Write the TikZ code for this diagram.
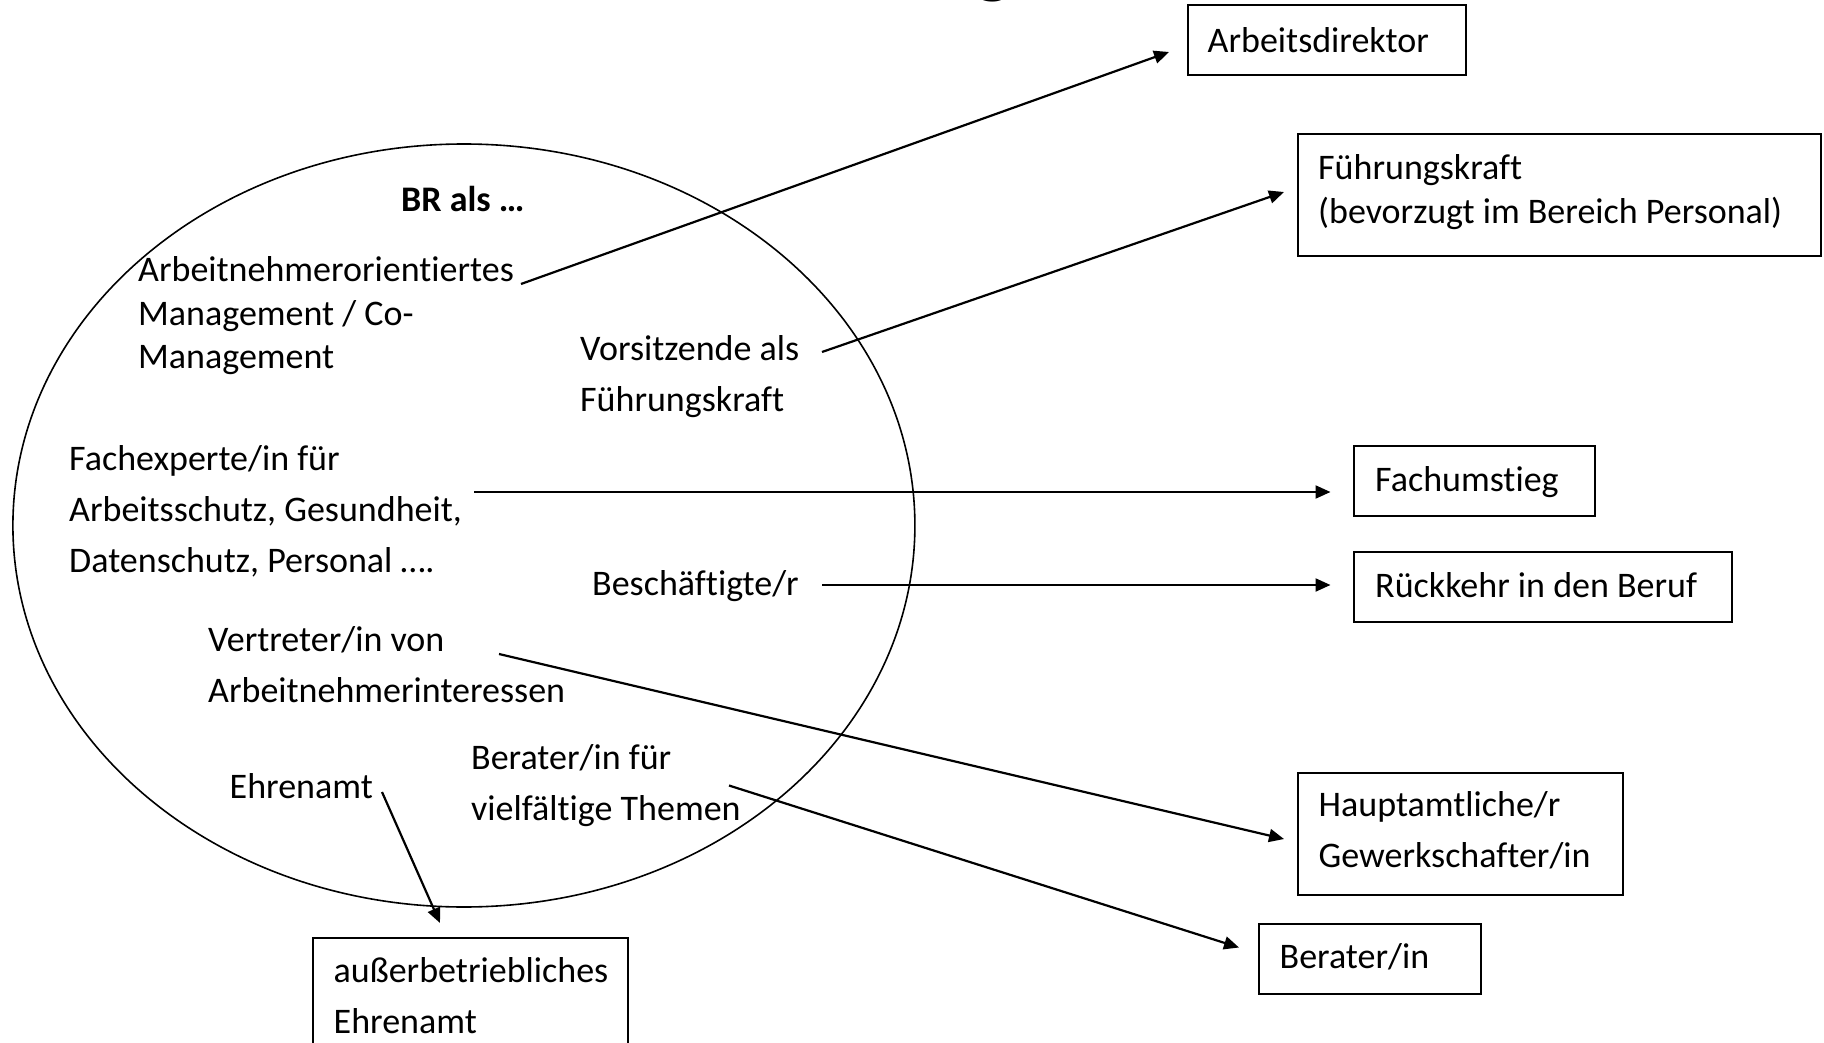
\documentclass[tikz,border=0pt]{standalone}
\usepackage{fontspec}
\setmainfont{Carlito}[Ligatures={NoCommon,NoContextual}]
\usetikzlibrary{arrows.meta,shapes.geometric}
\newcommand\twol[2]{\vtop{\hbox{#1}\hbox{#2}}}
\newcommand\threel[3]{\vtop{\hbox{#1}\hbox{#2}\hbox{#3}}}
\tikzset{
  lbl/.style={inner sep=0pt, anchor=base west, font=\fontsize{36}{44}\selectfont},
  lblw/.style={inner sep=0pt, anchor=base west, font=\fontsize{36}{51}\selectfont},
  boxr/.style={draw, line width=2pt, inner sep=0pt, outer sep=0pt, anchor=north west},
  arr/.style={line width=2.2pt, -{Triangle[length=15pt,width=13pt]}},
}
\begin{document}
\begin{tikzpicture}[x=1pt,y=-1pt]
\useasboundingbox (0,0) rectangle (1824,1043);
\clip (0,0) rectangle (1824,1043);
% partially visible title
\node[inner sep=0pt, anchor=base, font=\bfseries\fontsize{80}{80}\selectfont] (ttl) at (993,-11) {g};
% ellipse
\node[draw, ellipse, line width=1.6pt, inner sep=0pt, minimum width=902pt, minimum height=763pt] (br) at (463.9,525.5) {};
% texts inside
\node[lbl, font=\bfseries\fontsize{36}{44}\selectfont] (bral) at (401,212) {BR als …};
\node[lbl] (arbn) at (138,281) {\threel{Arbeitnehmerorientiertes}{Management / Co-}{Management}};
\node[lblw] (vors) at (580,360) {\twol{Vorsitzende als}{Führungskraft}};
\node[lblw] (fachx) at (69,470) {\threel{Fachexperte/in für}{Arbeitsschutz, Gesundheit,}{Datenschutz, Personal ….}};
\node[lbl] (besch) at (592,595) {Beschäftigte/r};
\node[lblw] (vertr) at (208,651) {\twol{Vertreter/in von}{Arbeitnehmerinteressen}};
\node[lblw] (berx) at (471,769) {\twol{Berater/in für}{vielfältige Themen}};
\node[lbl] (ehren) at (229.5,798) {Ehrenamt};
% boxes
\node[boxr, minimum width=278pt, minimum height=70pt] (dir) at (1188,5.5) {};
\node[lbl] (tdir) at (1207.5,53) {Arbeitsdirektor};
\node[boxr, minimum width=522.5pt, minimum height=122pt] (fk) at (1298,134) {};
\node[lbl] (tfk) at (1318,180) {\twol{Führungskraft}{(bevorzugt im Bereich Personal)}};
\node[boxr, minimum width=241pt, minimum height=70pt] (fach) at (1354,445.5) {};
\node[lbl] (tfach) at (1375,491) {Fachumstieg};
\node[boxr, minimum width=378pt, minimum height=70pt] (rueck) at (1354,552) {};
\node[lbl] (trueck) at (1375,597) {Rückkehr in den Beruf};
\node[boxr, minimum width=325pt, minimum height=122pt] (haupt) at (1298,772.5) {};
\node[lblw] (thaupt) at (1318.5,816.5) {\twol{Hauptamtliche/r}{Gewerkschafter/in}};
\node[boxr, minimum width=221.5pt, minimum height=70pt] (ber) at (1259,923.5) {};
\node[lbl] (tber) at (1279.5,968) {Berater/in};
\node[boxr, minimum width=314.5pt, minimum height=150pt] (aus) at (313,938) {};
\node[lblw] (taus) at (333.5,982) {\twol{außerbetriebliches}{Ehrenamt}};
% connector end points
\coordinate (s1) at (521,284);   \coordinate (e1) at (1169,52);
\coordinate (s2) at (822,352);   \coordinate (e2) at (1284,192);
\coordinate (s3) at (474,492);
\coordinate (s4) at (822,585);
\coordinate (s5) at (499,654);   \coordinate (e5) at (1284,839);
\coordinate (s6) at (729,785.5); \coordinate (e6) at (1239,947.5);
\coordinate (s7) at (382,792);   \coordinate (e7) at (440,923);
% connectors
\draw[arr] (s1) -- (e1);
\draw[arr] (s2) -- (e2);
\draw[arr, shorten >=23.5pt] (s3) -- (s3 -| fach.west);
\draw[arr, shorten >=23.5pt] (s4) -- (s4 -| rueck.west);
\draw[arr] (s5) -- (e5);
\draw[arr] (s6) -- (e6);
\draw[arr] (s7) -- (e7);
\end{tikzpicture}
\end{document}
